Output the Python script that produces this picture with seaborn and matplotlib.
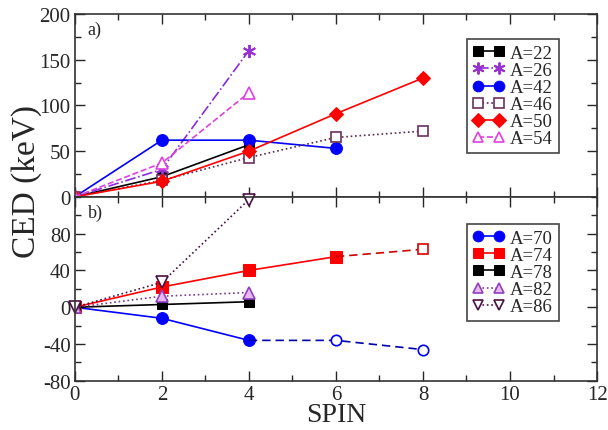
import matplotlib
matplotlib.use("Agg")
import matplotlib.pyplot as plt
import seaborn as sns
import numpy as np
from matplotlib.ticker import MultipleLocator

sns.set_style("ticks")
plt.rcParams['font.family'] = ['Liberation Serif', 'DejaVu Serif']
plt.rcParams['axes.unicode_minus'] = False

# ---- data (panel a) ----
spin_a22 = [0, 2, 4];        ced_a22 = [0, 22, 57]
spin_a26 = [0, 2, 4];        ced_a26 = [0, 30, 160]
spin_a42 = [0, 2, 4, 6];     ced_a42 = [0, 62, 62, 53]
spin_a46 = [0, 2, 4, 6, 8];  ced_a46 = [0, 18, 43, 65, 72]
spin_a50 = [0, 2, 4, 6, 8];  ced_a50 = [0, 17, 50, 91, 130]
spin_a54 = [0, 2, 4];        ced_a54 = [0, 37, 114]

# ---- data (panel b) ----
spin_a70 = [0, 2, 4];        ced_a70 = [0, -12, -36]
spin_a70x = [4, 6, 8];       ced_a70x = [-36, -36, -46]
spin_a74 = [0, 2, 4, 6];     ced_a74 = [0, 22, 40, 55]
spin_a74x = [6, 8];          ced_a74x = [55, 63]
spin_a78 = [0, 2, 4];        ced_a78 = [0, 3, 6]
spin_a82 = [0, 2, 4];        ced_a82 = [0, 12, 16]
spin_a86 = [0, 2, 4];        ced_a86 = [0, 27, 117]

fig = plt.figure(figsize=(6.08, 4.31), dpi=100)
ax1 = fig.add_axes([0.123, 0.541, 0.859, 0.424])
ax2 = fig.add_axes([0.123, 0.114, 0.859, 0.427], sharex=ax1)

ms = 7.5
lw = 1.2

def line(ax, x, y, **kw):
    sns.lineplot(x=x, y=y, ax=ax, sort=False, estimator=None, **kw)

# panel a
line(ax1, spin_a22, ced_a22, color='black', marker='s', markersize=ms, lw=lw,
     markeredgecolor='black', label='A=22')
line(ax1, spin_a26, ced_a26, color='#8a2be2', marker=(6, 2, 0), markersize=ms + 2,
     markeredgewidth=1.4, markeredgecolor='#9b30d0', linestyle='-.', lw=lw, label='A=26')
line(ax1, spin_a42, ced_a42, color='#0000ff', marker='o', markersize=ms + 1, lw=lw,
     markeredgecolor='#0000ff', label='A=42')
line(ax1, spin_a46, ced_a46, color='#5a2a4a', marker='s', markersize=ms, lw=lw,
     markerfacecolor='white', markeredgecolor='#6a3060', markeredgewidth=1.2,
     linestyle=':', label='A=46')
line(ax1, spin_a50, ced_a50, color='#ff0000', marker='D', markersize=ms, lw=lw,
     markeredgecolor='#ff0000', label='A=50')
line(ax1, spin_a54, ced_a54, color='#e040e0', marker='^', markersize=ms + 1, lw=lw,
     markerfacecolor='white', markeredgecolor='#e040e0', markeredgewidth=1.2,
     linestyle='--', label='A=54')

# panel b
line(ax2, spin_a70, ced_a70, color='#0000ff', marker='o', markersize=ms + 1, lw=lw,
     markeredgecolor='#0000ff', label='A=70')
line(ax2, spin_a70x, ced_a70x, color='#0000aa', marker='o', markersize=ms, lw=lw,
     markerfacecolor='white', markeredgecolor='#0000ff', markeredgewidth=1.2,
     linestyle=(0, (5, 3)), markevery=[1, 2])
line(ax2, spin_a74, ced_a74, color='#ff0000', marker='s', markersize=ms + 1, lw=lw,
     markeredgecolor='#ff0000', label='A=74')
line(ax2, spin_a74x, ced_a74x, color='#cc0000', marker='s', markersize=ms - 1, lw=lw,
     markerfacecolor='white', markeredgecolor='#dd0000', markeredgewidth=1.2,
     linestyle=(0, (5, 3)), markevery=[1])
line(ax2, spin_a78, ced_a78, color='black', marker='s', markersize=ms, lw=lw,
     markeredgecolor='black', label='A=78')
line(ax2, spin_a82, ced_a82, color='#7a3a8a', marker='^', markersize=ms + 1, lw=lw,
     markerfacecolor='#e8b8f0', markeredgecolor='#9040c0', markeredgewidth=1.2,
     linestyle=':', label='A=82')
line(ax2, spin_a86, ced_a86, color='#4a1040', marker='v', markersize=ms + 1, lw=lw,
     markerfacecolor='white', markeredgecolor='#4a1040', markeredgewidth=1.2,
     linestyle=':', label='A=86', clip_on=False)

for ax in (ax1, ax2):
    ax.set_xlim(0, 12)
    ax.xaxis.set_major_locator(MultipleLocator(2))
    ax.xaxis.set_minor_locator(MultipleLocator(1))
    ax.tick_params(which='both', direction='in', top=True, right=True, width=1.0)
    ax.tick_params(which='major', length=7, labelsize=15, pad=3)
    ax.tick_params(which='minor', length=4)
    for s in ax.spines.values():
        s.set_linewidth(1.2)
        s.set_color('#333333')
    ax.set_xlabel('')
    ax.set_ylabel('')

ax1.set_ylim(0, 200)
ax1.yaxis.set_major_locator(MultipleLocator(50))
ax1.yaxis.set_minor_locator(MultipleLocator(25))
ax1.tick_params(axis='x', labelbottom=False)

ax2.set_ylim(-80, 120)
ax2.set_yticks([-80, -40, 0, 40, 80])
ax2.yaxis.set_minor_locator(MultipleLocator(20))

ax1.text(0.3, 183, 'a)', fontsize=13, va='center')
ax2.text(0.3, 103, 'b)', fontsize=13, va='center')

leg_kw = dict(numpoints=2, fontsize=13.5, frameon=True, fancybox=False,
              edgecolor='#444444', framealpha=1, borderpad=0.3, labelspacing=0.0,
              handlelength=1.7, handletextpad=0.3, borderaxespad=0.0,
              markerscale=0.9, loc='upper left', bbox_transform=fig.transFigure)
l1 = ax1.legend(bbox_to_anchor=(0.768, 0.907), **leg_kw)
l2 = ax2.legend(bbox_to_anchor=(0.768, 0.478), **leg_kw)
for l in (l1, l2):
    l.get_frame().set_linewidth(1.2)

fig.text(0.043, 0.58, 'CED (keV)', rotation=90, fontsize=24, va='center', ha='center')
fig.text(0.553, 0.035, 'SPIN', fontsize=20, ha='center', va='center')

fig.savefig('out.png', dpi=100)
